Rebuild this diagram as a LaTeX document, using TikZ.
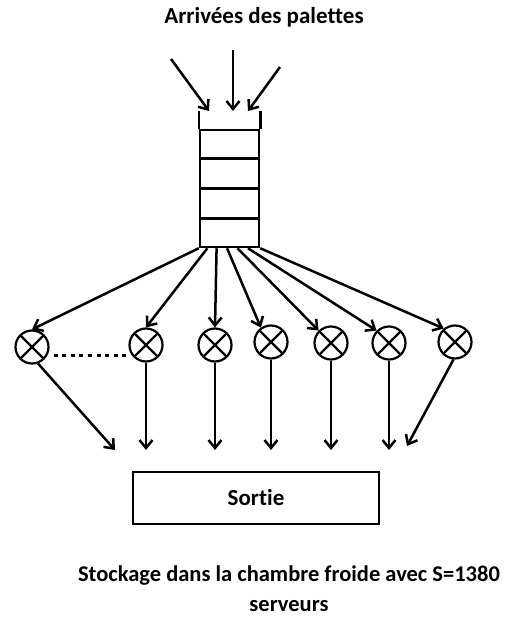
\documentclass[tikz,border=0pt]{standalone}
\usepackage{fontspec}
\setmainfont{Carlito}[Ligatures={NoCommon}]
\usetikzlibrary{arrows.meta,positioning,calc}

\begin{document}
\begin{tikzpicture}[x=1pt,y=-1pt,
  flow/.style={line width=2.5pt,-{Straight Barb[length=8pt,width=13pt,line width=2.5pt]}},
  server/.style={circle,draw,line width=2.2pt,minimum size=33pt,inner sep=0pt,
    path picture={\draw[line width=2.2pt]
      (path picture bounding box.south west) -- (path picture bounding box.north east)
      (path picture bounding box.north west) -- (path picture bounding box.south east);}},
  bigtext/.style={font=\bfseries\fontsize{23}{32}\selectfont}]
  \useasboundingbox (0,0) rectangle (507,621);

  \node[bigtext] (title) at (264,17) {Arrivées des palettes};

  % file d'attente
  \node[draw,line width=2.5pt,minimum width=59pt,minimum height=117pt,inner sep=0pt] (queue) at (229.5,188.5) {};
  \foreach \f in {0.25,0.5,0.75}
    \draw[line width=2.5pt] ($(queue.north west)!\f!(queue.south west)$) -- ($(queue.north east)!\f!(queue.south east)$);
  \draw[line width=2.5pt] (queue.north west) -- ++(0,-18);
  \draw[line width=2.5pt] (queue.north east) -- ++(0,-18);

  % arrivees
  \coordinate (a1) at (171,59);
  \coordinate (a2) at (233,50);
  \coordinate (a3) at (280,67);
  \coordinate (b1) at (209,111);
  \coordinate (b2) at (233,111);
  \coordinate (b3) at (248,111);
  \foreach \i in {1,2,3}
    \draw[flow] (a\i) -- (b\i);

  % serveurs
  \node[server] (s1) at (32,347) {};
  \node[server] (s2) at (146,345) {};
  \node[server] (s3) at (215,345) {};
  \node[server] (s4) at (271,342) {};
  \node[server] (s5) at (331,343) {};
  \node[server] (s6) at (389,343) {};
  \node[server] (s7) at (455,342) {};
  \draw[line width=3pt,dash pattern=on 4pt off 4.6pt] ([yshift=-8pt]s1.east) ++(4,0) -- ([yshift=-10pt,xshift=-2pt]s2.west);

  \foreach \i/\f/\a in {1/0/north,2/0.14/north,3/0.29/north,4/0.46/125,5/0.63/135,6/0.8/135,7/1/130}
    \draw[flow] ($(queue.south west)!\f!(queue.south east)$) -- (s\i.\a);

  % sortie
  \node[draw,line width=2.2pt,minimum width=246pt,minimum height=52pt,bigtext] (exit) at (256,498) {Sortie};
  \coordinate (e1) at (115,450);
  \coordinate (e7) at (407,446);
  \draw[flow] (s1.-70) -- (e1);
  \foreach \i in {2,...,6}
    \draw[flow] (s\i.south) -- (s\i.south |- e1);
  \draw[flow] (s7.-95) -- (e7);

  \node[font=\bfseries\fontsize{22.5}{30}\selectfont,align=center,inner sep=0pt] (caption) at (289,589) {Stockage dans la chambre froide avec S=1380\\serveurs};
\end{tikzpicture}
\end{document}
